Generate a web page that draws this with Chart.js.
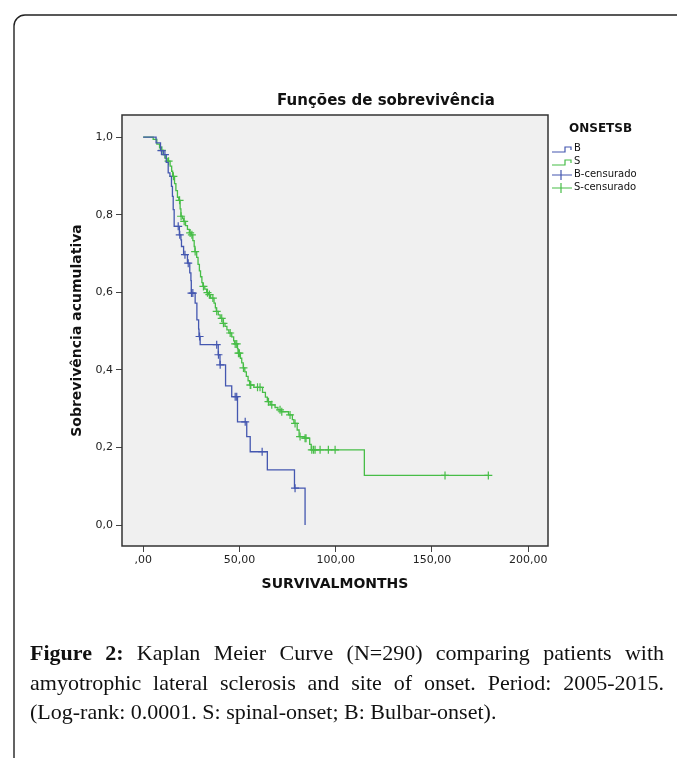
<!DOCTYPE html>
<html>
<head>
<meta charset="utf-8">
<script src="https://cdn.jsdelivr.net/npm/chart.js@4.4.0/dist/chart.umd.min.js"></script>
<style>
  body { margin: 0; background: #fff; }
  #wrap { position: relative; width: 677px; height: 758px; overflow: hidden; }
  #km { position: absolute; left: 0; top: 0; }
  #caption {
    position: absolute; left: 30px; top: 638px; width: 634px;
    font-family: "Liberation Serif", "DejaVu Serif", serif;
    font-size: 22px; line-height: 29.5px; color: #111;
  }
  #caption .j { text-align: justify; text-align-last: justify; white-space: nowrap; }
</style>
</head>
<body>
<div id="wrap">
  <canvas id="km" width="677" height="758"></canvas>
  <div id="caption">
    <div class="j"><b>Figure 2:</b> Kaplan Meier Curve (N=290) comparing patients with</div>
    <div class="j">amyotrophic lateral sclerosis and site of onset. Period: 2005-2015.</div>
    <div>(Log-rank: 0.0001. S: spinal-onset; B: Bulbar-onset).</div>
  </div>
</div>
<script>
// bulbar onset (B) - step points, time in months / cumulative survival
var bTime = [0, 6.7, 9.0, 10.5, 12.0, 13.0, 13.9, 14.7, 15.2, 15.6, 16.1, 18.8, 19.6, 19.9, 21.0, 23.0, 24.2, 24.8, 25.0, 27.0, 27.9, 28.8, 29.0, 29.6, 39.0, 39.9, 42.8, 46.0, 49.0, 53.8, 55.6, 64.5, 78.6, 84.1];
var bSurv = [1.0, 0.985, 0.965, 0.955, 0.935, 0.908, 0.899, 0.873, 0.847, 0.813, 0.770, 0.748, 0.735, 0.718, 0.697, 0.675, 0.650, 0.630, 0.598, 0.572, 0.529, 0.505, 0.486, 0.465, 0.439, 0.413, 0.359, 0.331, 0.266, 0.228, 0.189, 0.142, 0.095, 0.0];
var bCensTime = [9.5, 11.3, 18.2, 19.0, 21.7, 23.4, 25.1, 25.8, 29.3, 38.2, 39.1, 40.0, 47.8, 48.6, 53.0, 61.8, 78.9];
var bCensSurv = [0.965, 0.955, 0.770, 0.748, 0.697, 0.675, 0.598, 0.598, 0.486, 0.465, 0.439, 0.413, 0.331, 0.331, 0.266, 0.189, 0.095];

// spinal onset (S)
var sTime = [0, 5.2, 7.1, 8.5, 9.3, 10.5, 11.5, 12.5, 14.0, 14.8, 15.3, 16.3, 17.0, 17.8, 18.5, 19.2, 19.6, 20.5, 21.0, 22.0, 23.0, 24.0, 25.0, 25.8, 26.5, 26.9, 27.8, 28.5, 29.2, 29.8, 30.5, 31.0, 32.0, 33.0, 34.0, 35.0, 36.8, 37.5, 38.0, 39.0, 40.0, 41.5, 42.5, 43.5, 44.5, 46.0, 47.0, 47.5, 49.0, 49.3, 50.5, 51.2, 52.0, 52.8, 53.6, 54.5, 55.3, 57.5, 62.0, 63.5, 64.5, 66.0, 68.5, 70.0, 71.8, 75.5, 77.5, 78.3, 80.0, 81.0, 84.0, 86.5, 87.3, 114.9, 179.3];
var sSurv = [1.0, 0.994, 0.982, 0.972, 0.966, 0.955, 0.945, 0.938, 0.925, 0.912, 0.899, 0.880, 0.862, 0.845, 0.837, 0.815, 0.796, 0.790, 0.783, 0.772, 0.762, 0.753, 0.748, 0.733, 0.718, 0.705, 0.690, 0.672, 0.655, 0.640, 0.625, 0.615, 0.608, 0.599, 0.594, 0.585, 0.572, 0.560, 0.551, 0.542, 0.533, 0.520, 0.512, 0.503, 0.495, 0.485, 0.475, 0.467, 0.455, 0.443, 0.430, 0.418, 0.405, 0.395, 0.383, 0.372, 0.361, 0.355, 0.342, 0.330, 0.318, 0.310, 0.303, 0.297, 0.292, 0.284, 0.272, 0.262, 0.245, 0.228, 0.224, 0.208, 0.194, 0.128, 0.128];
var sCensTime = [9.7, 13.2, 15.7, 18.9, 19.7, 21.3, 24.4, 25.3, 27.0, 31.3, 33.4, 34.4, 36.2, 38.2, 40.8, 41.7, 45.2, 47.8, 48.6, 49.5, 50.0, 52.1, 55.6, 55.9, 59.4, 60.7, 65.1, 66.8, 71.1, 72.0, 76.3, 78.9, 81.5, 84.1, 84.6, 87.6, 88.5, 89.3, 91.9, 96.2, 99.7, 156.8, 179.3];
var sCensSurv = [0.966, 0.938, 0.899, 0.837, 0.796, 0.783, 0.753, 0.748, 0.705, 0.615, 0.599, 0.594, 0.585, 0.551, 0.533, 0.520, 0.495, 0.467, 0.467, 0.443, 0.443, 0.405, 0.361, 0.361, 0.355, 0.355, 0.318, 0.310, 0.297, 0.292, 0.284, 0.262, 0.228, 0.224, 0.224, 0.194, 0.194, 0.194, 0.194, 0.194, 0.194, 0.128, 0.128];

var xTicks = [0, 50, 100, 150, 200];
var xTickLabels = [',00', '50,00', '100,00', '150,00', '200,00'];
var yTicks = [0, 0.2, 0.4, 0.6, 0.8, 1.0];
var yTickLabels = ['0,0', '0,2', '0,4', '0,6', '0,8', '1,0'];

var legendTitle = 'ONSETSB';
var legendLabels = ['B', 'S', 'B-censurado', 'S-censurado'];

var blue = '#4457b0';
var green = '#47bd47';

function pts(xs, ys) {
  return xs.map(function (x, i) { return {x: x, y: ys[i]}; });
}

var tickFont = {family: '"DejaVu Sans"', size: 11};
var axisTitleFont = {family: '"DejaVu Sans"', size: 14, weight: 'bold'};

// plot background, border, figure frame, title and legend
var decor = {
  id: 'decor',
  beforeDatasetsDraw: function (chart) {
    var ctx = chart.ctx, a = chart.chartArea;
    ctx.save();
    ctx.fillStyle = '#f0f0f0';
    ctx.fillRect(a.left, a.top, a.right - a.left, a.bottom - a.top);
    ctx.restore();
  },
  afterDraw: function (chart) {
    var ctx = chart.ctx, a = chart.chartArea;
    ctx.save();
    ctx.strokeStyle = '#333';
    ctx.lineWidth = 1.5;
    ctx.strokeRect(a.left, a.top, a.right - a.left, a.bottom - a.top);

    // outer frame, clipped by the page
    ctx.strokeStyle = '#222';
    ctx.lineWidth = 1.4;
    ctx.beginPath();
    ctx.moveTo(14, 758);
    ctx.lineTo(14, 26);
    ctx.arcTo(14, 15, 25, 15, 11);
    ctx.lineTo(677, 15);
    ctx.stroke();

    ctx.fillStyle = '#111';
    ctx.textBaseline = 'middle';
    ctx.textAlign = 'center';
    ctx.font = 'bold 15px "DejaVu Sans"';
    ctx.fillText('Funções de sobrevivência', 386, 101);

    // legend
    ctx.textAlign = 'left';
    ctx.font = 'bold 12px "DejaVu Sans"';
    ctx.fillText(legendTitle, 569, 129);
    ctx.font = '10px "DejaVu Sans"';
    var ys = [148, 161, 174, 187];
    var cols = [blue, green, blue, green];
    for (var i = 0; i < 4; i++) {
      var y = ys[i];
      ctx.fillStyle = '#111';
      ctx.fillText(legendLabels[i], 574, y);
      ctx.strokeStyle = cols[i];
      ctx.lineWidth = 1.2;
      ctx.beginPath();
      if (i < 2) {
        ctx.moveTo(552, y + 4);
        ctx.lineTo(565, y + 4);
        ctx.lineTo(565, y - 1);
        ctx.lineTo(571, y - 1);
        ctx.lineTo(571, y + 2);
      } else {
        ctx.moveTo(552, y + 1);
        ctx.lineTo(572, y + 1);
        ctx.moveTo(561, y - 4);
        ctx.lineTo(561, y + 6);
      }
      ctx.stroke();
    }
    ctx.restore();
  }
};

var ctx = document.getElementById('km');
var kmChart = new Chart(ctx, {
  type: 'scatter',
  data: {
    datasets: [
      {label: 'B', data: pts(bTime, bSurv), showLine: true, stepped: true, borderColor: blue, borderWidth: 1.3, pointRadius: 0, fill: false},
      {label: 'S', data: pts(sTime, sSurv), showLine: true, stepped: true, borderColor: green, borderWidth: 1.3, pointRadius: 0, fill: false},
      {label: 'B-censurado', data: pts(bCensTime, bCensSurv), pointStyle: 'cross', pointRadius: 4, borderColor: blue, borderWidth: 1.2},
      {label: 'S-censurado', data: pts(sCensTime, sCensSurv), pointStyle: 'cross', pointRadius: 4, borderColor: green, borderWidth: 1.2}
    ]
  },
  options: {
    responsive: false,
    animation: false,
    devicePixelRatio: 1,
    layout: {padding: {left: 0, right: 129, top: 115, bottom: 158}},
    plugins: {legend: {display: false}, tooltip: {enabled: false}, title: {display: false}},
    scales: {
      x: {
        type: 'linear', min: -11, max: 210.3,
        afterFit: function (s) { s.height = 54; },
        afterBuildTicks: function (s) { s.ticks = xTicks.map(function (v) { return {value: v}; }); },
        ticks: {
          font: tickFont, color: '#222', padding: 2, maxRotation: 0, autoSkip: false,
          callback: function (v) { return xTickLabels[xTicks.indexOf(v)]; }
        },
        grid: {drawOnChartArea: false, drawTicks: true, tickLength: 6, color: '#444'},
        border: {display: false},
        title: {display: true, text: 'SURVIVALMONTHS', font: axisTitleFont, color: '#111', padding: {top: 0, bottom: 7}}
      },
      y: {
        type: 'linear', min: -0.054, max: 1.057,
        afterFit: function (s) { s.width = 122; },
        afterBuildTicks: function (s) { s.ticks = yTicks.map(function (v) { return {value: v}; }); },
        ticks: {
          font: tickFont, color: '#222', padding: 3, autoSkip: false,
          callback: function (v) { return yTickLabels[yTicks.indexOf(v)]; }
        },
        grid: {drawOnChartArea: false, drawTicks: true, tickLength: 6, color: '#444'},
        border: {display: false},
        title: {display: true, text: 'Sobrevivência acumulativa', font: axisTitleFont, color: '#111', padding: {top: 69, bottom: 0}}
      }
    }
  },
  plugins: [decor]
});
</script>
</body>
</html>
